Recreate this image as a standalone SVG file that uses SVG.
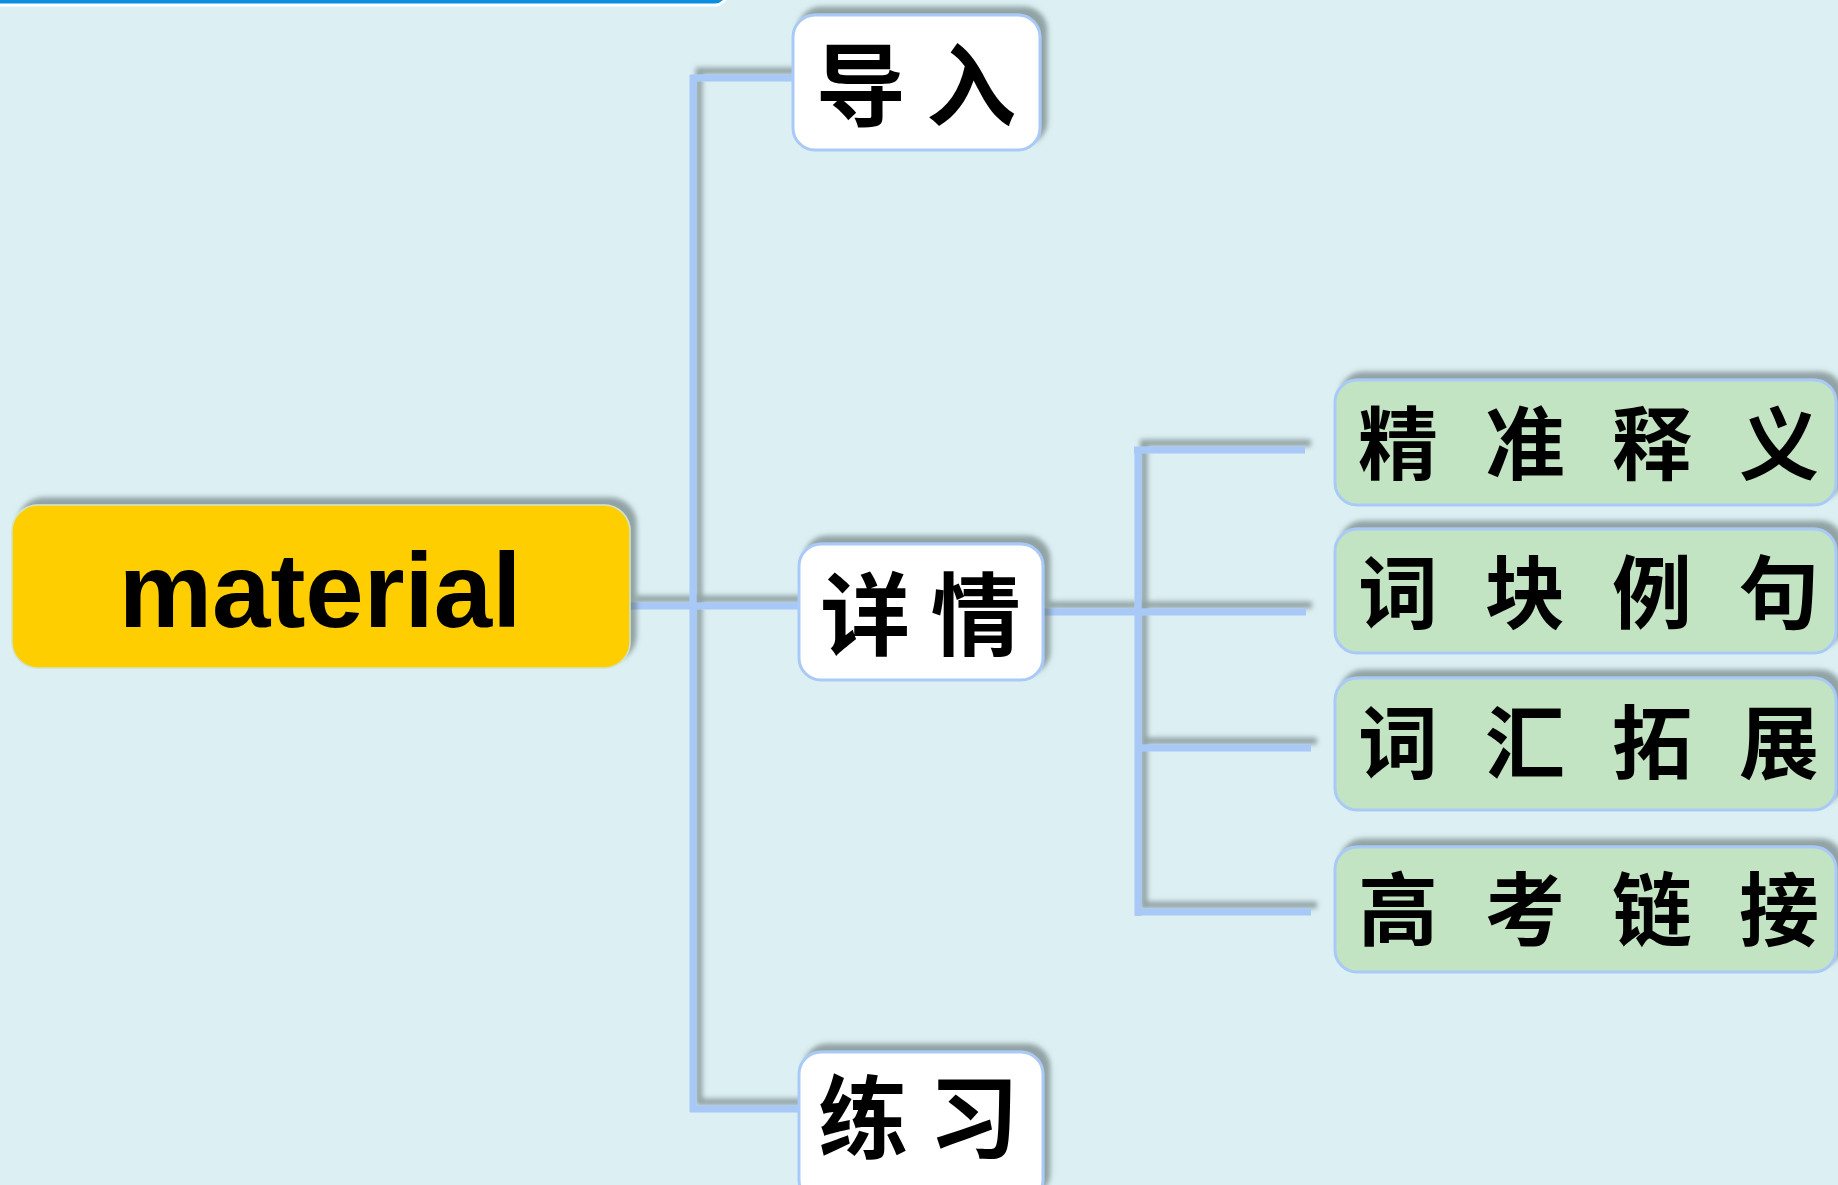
<svg xmlns="http://www.w3.org/2000/svg" width="1838" height="1185" viewBox="0 0 1838 1185">
<style>
.bg{fill:#DCF0F3}
.ln{fill:none;stroke:#A8C8F8;stroke-width:7;stroke-linecap:butt}
.wn{fill:#FFFFFF;stroke:#A9C9F7;stroke-width:3}
.gn{fill:#C2E4C2;stroke:#A9C9F7;stroke-width:3}
.yn{fill:#FFCE00;stroke:#D0E4C8;stroke-width:1.5}
.cj{font-family:"Noto Sans CJK SC","Noto Sans CJK JP",sans-serif;font-weight:bold;fill:#000}
.en{font-family:"Liberation Sans",Arial,sans-serif;font-weight:bold;fill:#000}
</style>
<defs>
<filter id="sh" filterUnits="userSpaceOnUse" x="-50" y="-50" width="1950" height="1300">
<feGaussianBlur in="SourceAlpha" stdDeviation="2.5"/>
<feOffset dx="6" dy="-7" result="b"/>
<feFlood flood-color="#5f6f70" flood-opacity="0.6"/>
<feComposite in2="b" operator="in"/>
<feMerge><feMergeNode/><feMergeNode in="SourceGraphic"/></feMerge>
</filter>
</defs>
<rect class="bg" x="0" y="0" width="1838" height="1185"/>
<g id="topbar">
<rect x="-30" y="-60" width="757" height="65" rx="12" fill="#0A8FE0" stroke="#FFFFFF" stroke-width="3"/>
</g>
<g id="connectors" filter="url(#sh)">
<path class="ln" d="M693,75 V1112"/>
<path class="ln" d="M690,78 H793"/>
<path class="ln" d="M630,606 H799"/>
<path class="ln" d="M690,1109 H799"/>
<path class="ln" d="M1043,612 H1306"/>
<path class="ln" d="M1138,447 V916"/>
<path class="ln" d="M1134,450 H1305"/>
<path class="ln" d="M1138,748 H1311"/>
<path class="ln" d="M1138,912 H1311"/>
</g>
<g id="node-material" filter="url(#sh)">
<rect class="yn" x="12" y="505" width="618" height="163" rx="26"/>
<text class="en" x="320" y="627" font-size="105" text-anchor="middle">material</text>
</g>
<g id="node-daoru" filter="url(#sh)">
<rect class="wn" x="793" y="15" width="247" height="135" rx="22"/>
<text class="cj" x="916" y="119" font-size="90" text-anchor="middle">导 入</text>
</g>
<g id="node-xiangqing" filter="url(#sh)">
<rect class="wn" x="799" y="544" width="244" height="136" rx="22"/>
<text class="cj" x="920.5" y="648" font-size="90" text-anchor="middle">详 情</text>
</g>
<g id="node-lianxi" filter="url(#sh)">
<rect class="wn" x="799" y="1052" width="244" height="150" rx="22"/>
<text class="cj" x="918.5" y="1151" font-size="90" text-anchor="middle">练 习</text>
</g>
<g id="node-jingzhunshiyi" filter="url(#sh)">
<rect class="gn" x="1335" y="380" width="501" height="125" rx="22"/>
<text class="cj" x="1358 1438 1485 1565 1612 1692 1739" y="473" font-size="80">精 准 释 义</text>
</g>
<g id="node-cikuailiju" filter="url(#sh)">
<rect class="gn" x="1335" y="529" width="501" height="124" rx="22"/>
<text class="cj" x="1358 1438 1485 1565 1612 1692 1739" y="622" font-size="80">词 块 例 句</text>
</g>
<g id="node-cihuituozhan" filter="url(#sh)">
<rect class="gn" x="1335" y="678" width="501" height="132" rx="22"/>
<text class="cj" x="1358 1438 1485 1565 1612 1692 1739" y="772" font-size="80">词 汇 拓 展</text>
</g>
<g id="node-gaokaolianjie" filter="url(#sh)">
<rect class="gn" x="1335" y="847" width="501" height="125" rx="22"/>
<text class="cj" x="1358 1438 1485 1565 1612 1692 1739" y="939" font-size="80">高 考 链 接</text>
</g>
</svg>
